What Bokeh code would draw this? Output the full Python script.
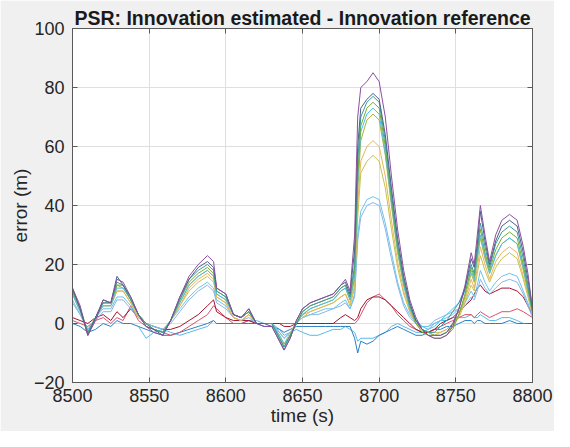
from bokeh.plotting import figure
from bokeh.models import Range1d, LinearAxis, FixedTicker
from bokeh.embed import file_html
from bokeh.resources import INLINE

nan = float("nan")

t = [8500, 8505, 8510, 8515, 8520, 8525, 8529, 8533, 8538, 8543,
     8548, 8553, 8559, 8564, 8570, 8576, 8582, 8588, 8592, 8594,
     8600, 8605, 8610, 8615, 8620, 8625, 8630, 8635, 8638, 8642,
     8646, 8650, 8655, 8660, 8665, 8670, 8675, 8678, 8681, 8684,
     8686, 8688, 8692, 8696, 8700, 8704, 8708, 8712, 8716, 8720,
     8724, 8728, 8732, 8736, 8740, 8744, 8748, 8752, 8756, 8760,
     8762, 8764, 8766, 8769, 8772, 8776, 8780, 8785, 8790, 8794,
     8797, 8800]

s_purple = [12, 6, -4, 1, 8, 7, 15, 14, 9, 3,
            -1, -3, -4, 1, 9, 16, 20, 23, 21, 12,
            10, 3, 2, 5, 0, -1, -1, -6, -9, -5,
            1, 5, 7, 8, 9, 10, 13, 15, 11, 30,
            70, 80, 82, 85, 82, 70, 50, 32, 18, 8,
            2, -2, -4, -5, -5, -4, -1, 5, 13, 24,
            20, 30, 40, 30, 21, 30, 35, 37, 35, 26,
            17, 5]
s_slate = [12, 5, -4, 2, 8, 7, 16, 13, 9, 3,
           -1, -2, -4, 1, 9, 15, 19, 21, 19, 12,
           10, 3, 2, 5, 0, 0, -1, -6, -9, -5,
           1, 5, 7, 8, 9, 10, 13, 14, 10, 25,
           60, 73, 76, 78, 76, 64, 46, 29, 16, 7,
           1, -2, -4, -4, -4, -3, 0, 5, 12, 22,
           19, 27, 38, 28, 20, 28, 33, 35, 33, 24,
           15, 5]
s_teal = [11, 5, -3, 2, 7, 7, 14, 13, 8, 3,
          0, -2, -3, 1, 8, 15, 18, 20, 18, 11,
          9, 3, 2, 4, 0, 0, 0, -5, -8, -4,
          0, 4, 6, 7, 8, 9, 12, 13, 9, 20,
          55, 70, 75, 77, 75, 62, 44, 27, 15, 6,
          1, -2, -3, -3, -1, 1, 4, 7, 12, 20,
          17, 25, 34, 26, 19, 27, 31, 33, 31, 22,
          13, 4]
s_green = [11, 5, -4, 2, 7, 7, 13, 13, 8, 3,
           0, -2, -3, 1, 8, 14, 17, 19, 17, 11,
           9, 3, 2, 4, 0, 0, 0, -5, -8, -4,
           0, 4, 6, 7, 8, 9, 12, 13, 9, 18,
           50, 67, 73, 75, 73, 60, 42, 26, 14, 6,
           0, -3, -4, -5, -5, -4, -2, 3, 10, 19,
           16, 24, 32, 24, 18, 25, 29, 31, 29, 20,
           12, 4]
s_cyan = [10, 4, -3, 2, 6, 6, 12, 12, 8, 3,
          0, -2, -3, 1, 7, 13, 16, 18, 16, 10,
          8, 3, 2, 4, 0, 0, 0, -4, -7, -4,
          0, 3, 5, 6, 7, 8, 11, 12, 8, 16,
          48, 65, 71, 73, 71, 58, 41, 25, 13, 5,
          1, -1, -2, -1, 1, 3, 5, 7, 11, 18,
          15, 22, 30, 23, 17, 23, 27, 29, 27, 19,
          11, 4]
s_olive = [11, 5, -3, 2, 7, 7, 13, 12, 8, 3,
           0, -2, -3, 1, 7, 13, 16, 18, 16, 10,
           8, 3, 2, 4, 0, 0, 0, -5, -8, -4,
           0, 3, 5, 6, 7, 8, 11, 12, 8, 15,
           45, 62, 69, 71, 69, 57, 40, 24, 13, 5,
           0, -2, -3, -4, -4, -3, -1, 3, 9, 17,
           14, 22, 29, 22, 17, 23, 27, 29, 27, 18,
           11, 4]
s_orange = [10, 4, -3, 2, 6, 6, 11, 11, 7, 2,
            0, -2, -3, 1, 6, 12, 15, 17, 15, 9,
            7, 2, 1, 3, 0, 0, 0, -4, -7, -4,
            0, 3, 4, 5, 6, 7, 9, 10, 7, 13,
            40, 55, 60, 62, 60, 50, 35, 21, 11, 4,
            0, -2, -3, -4, -3, -2, 0, 3, 8, 15,
            12, 19, 26, 20, 15, 21, 24, 26, 24, 16,
            10, 3]
s_khaki = [10, 4, -3, 2, 6, 6, 11, 11, 7, 2,
           0, -2, -3, 1, 6, 11, 14, 16, 14, 9,
           7, 2, 1, 3, 0, 0, 0, -4, -7, -3,
           0, 2, 4, 5, 6, 7, 9, 10, 6, 12,
           36, 51, 55, 57, 55, 46, 32, 19, 10, 4,
           0, -2, -3, -3, -3, -2, 0, 2, 7, 13,
           11, 17, 23, 18, 14, 19, 22, 24, 22, 15,
           9, 3]
s_light1 = [8, 3, -2, 2, 5, 5, 9, 9, 6, 2,
            0, -1, -2, 1, 5, 9, 12, 14, 12, 8,
            6, 2, 1, 3, 0, 0, 0, -3, -5, -3,
            0, 2, 3, 4, 5, 5, 7, 8, 5, 10,
            30, 38, 42, 43, 42, 34, 24, 14, 7, 3,
            0, -1, -1, 0, 1, 2, 3, 5, 7, 11,
            9, 13, 18, 14, 11, 14, 16, 17, 16, 11,
            7, 3]
s_light2 = [7, 3, -2, 1, 4, 4, 8, 8, 5, 2,
            0, -1, -2, 0, 4, 8, 11, 13, 11, 7,
            5, 2, 1, 2, 0, 0, 0, -3, -5, -3,
            0, 2, 3, 3, 4, 5, 6, 7, 5, 9,
            28, 36, 40, 41, 40, 32, 22, 13, 6, 2,
            0, -1, -1, 1, 2, 3, 4, 5, 6, 9,
            8, 11, 15, 12, 10, 12, 14, 15, 14, 10,
            6, 2]
s_darkred = [2, 1, 0, 2, 3, 1, 4, 2, 5, 2,
             0, -1, -2, -2, -1, 1, 3, 6, 8, 4,
             2, 1, 1, 1, 0, 0, 0, 0, -1, -1,
             0, 0, 0, 0, 0, 0, 2, 3, 2, 1,
             2, 5, 8, 9, 9, 8, 6, 4, 2, 0,
             -2, -3, -3, -2, 0, 1, 2, 4, 6, 8,
             10, 12, 13, 11, 10, 11, 12, 12, 11, 9,
             6, 3]
s_pink = [1, 0, -1, 1, 2, 0, 2, 1, 6, 1,
          -1, -2, -3, -4, -3, -1, 1, 3, 6, 5,
          2, 0, 0, 1, 0, 0, 0, 0, 0, 0,
          0, 0, 0, 0, 0, 0, 0, 0, 0, 0,
          1, 3, 7, 9, 10, 8, 6, 3, 1, -1,
          -2, -3, -3, -2, -1, 0, 1, 2, 3, 3,
          2, 3, 4, 3, 2, 3, 4, 4, 5, 4,
          3, 2]
s_blue = [0, -1, -3, -2, 0, -1, 1, 0, 0, -1,
          -2, -3, -4, -4, -3, -2, -1, 0, 1, 0,
          0, 0, 0, 0, 0, -1, -1, -2, -3, -2,
          -1, -1, -1, -1, -1, -1, -1, -1, -1, -5,
          -10, -6, -7, -6, -4, -3, -2, -1, -2, -3,
          -4, -4, -3, -2, -2, -1, -1, 0, 1, 1,
          0, 1, 1, 0, 0, 0, 0, 1, 0, 0,
          0, 0]
s_sky = [nan, nan, nan, nan, nan, nan, nan, nan, nan, -1,
         -5, -3, -2, -3, -4, -3, -2, -1, 1, 0,
         0, 0, 0, 1, 1, 0, 0, -2, -4, -3,
         -2, -3, -4, -4, -3, -2, -2, -1, -2, -3,
         -6, -5, -5, -5, -4, -3, -1, 0, -1, -2,
         -3, -3, -2, 0, 1, 1, 2, 2, 2, 3,
         2, 2, 3, 2, 1, 1, 2, 2, 1, 0,
         0, 0]

series = [
    (s_sky, "#5ab8e8"),
    (s_blue, "#2a7fc4"),
    (s_pink, "#d9506a"),
    (s_darkred, "#A2142F"),
    (s_light2, "#8ab4e4"),
    (s_light1, "#6cc4ec"),
    (s_khaki, "#c7c24a"),
    (s_orange, "#e8b45a"),
    (s_olive, "#a4b43a"),
    (s_cyan, "#4DBEEE"),
    (s_green, "#77AC30"),
    (s_teal, "#3a9c9c"),
    (s_slate, "#4a5f8a"),
    (s_purple, "#8b4f9e"),
]

x_ticks = [8500, 8550, 8600, 8650, 8700, 8750, 8800]
y_ticks = [-20, 0, 20, 40, 60, 80, 100]

FONT = "Liberation Sans"
AX = "#5a5a5a"
TXT = "#262626"

p = figure(width=554, height=431, output_backend="svg", toolbar_location=None,
           x_range=Range1d(8500, 8800), y_range=Range1d(-20, 100),
           min_border_left=72, min_border_right=22, min_border_top=28,
           min_border_bottom=49, background_fill_color="white",
           border_fill_color="#f0f0f0",
           title="PSR: Innovation estimated - Innovation reference")

p.title.align = "center"
p.title.text_font = FONT
p.title.text_font_size = "19.5px"
p.title.text_font_style = "bold"
p.title.text_color = "#1a1a1a"
p.title.standoff = 0

for ys, c in series:
    p.line(t, ys, line_color=c, line_width=1.0)

for ax in (p.xaxis[0], p.yaxis[0]):
    ax.major_tick_in = 5
    ax.major_tick_out = 0
    ax.minor_tick_line_color = None
    ax.axis_line_color = AX
    ax.major_tick_line_color = AX
    ax.major_label_text_font = FONT
    ax.major_label_text_font_size = "18px"
    ax.major_label_text_color = TXT
    ax.axis_label_text_font = FONT
    ax.axis_label_text_font_size = "19px"
    ax.axis_label_text_font_style = "normal"
    ax.axis_label_text_color = TXT

p.xaxis[0].ticker = FixedTicker(ticks=x_ticks)
p.yaxis[0].ticker = FixedTicker(ticks=y_ticks)
p.xaxis[0].axis_label = "time (s)"
p.yaxis[0].axis_label = "error (m)"
p.xaxis[0].major_label_standoff = 6
p.yaxis[0].major_label_standoff = 8
p.xaxis[0].axis_label_standoff = 0
p.yaxis[0].axis_label_standoff = 0

top = LinearAxis(ticker=FixedTicker(ticks=x_ticks),
                 major_label_overrides={v: "" for v in x_ticks})
right = LinearAxis(ticker=FixedTicker(ticks=y_ticks),
                   major_label_overrides={v: "" for v in y_ticks})
for ax in (top, right):
    ax.major_tick_in = 5
    ax.major_tick_out = 0
    ax.minor_tick_line_color = None
    ax.axis_line_color = AX
    ax.major_tick_line_color = AX
    ax.major_label_standoff = 0
    ax.major_label_text_font_size = "1px"
p.add_layout(top, "above")
p.add_layout(right, "right")

p.xgrid.ticker = FixedTicker(ticks=x_ticks)
p.ygrid.ticker = FixedTicker(ticks=y_ticks)
p.grid.grid_line_color = "#dfdfdf"
p.outline_line_color = AX

open("out.html", "w").write(file_html(p, INLINE))
